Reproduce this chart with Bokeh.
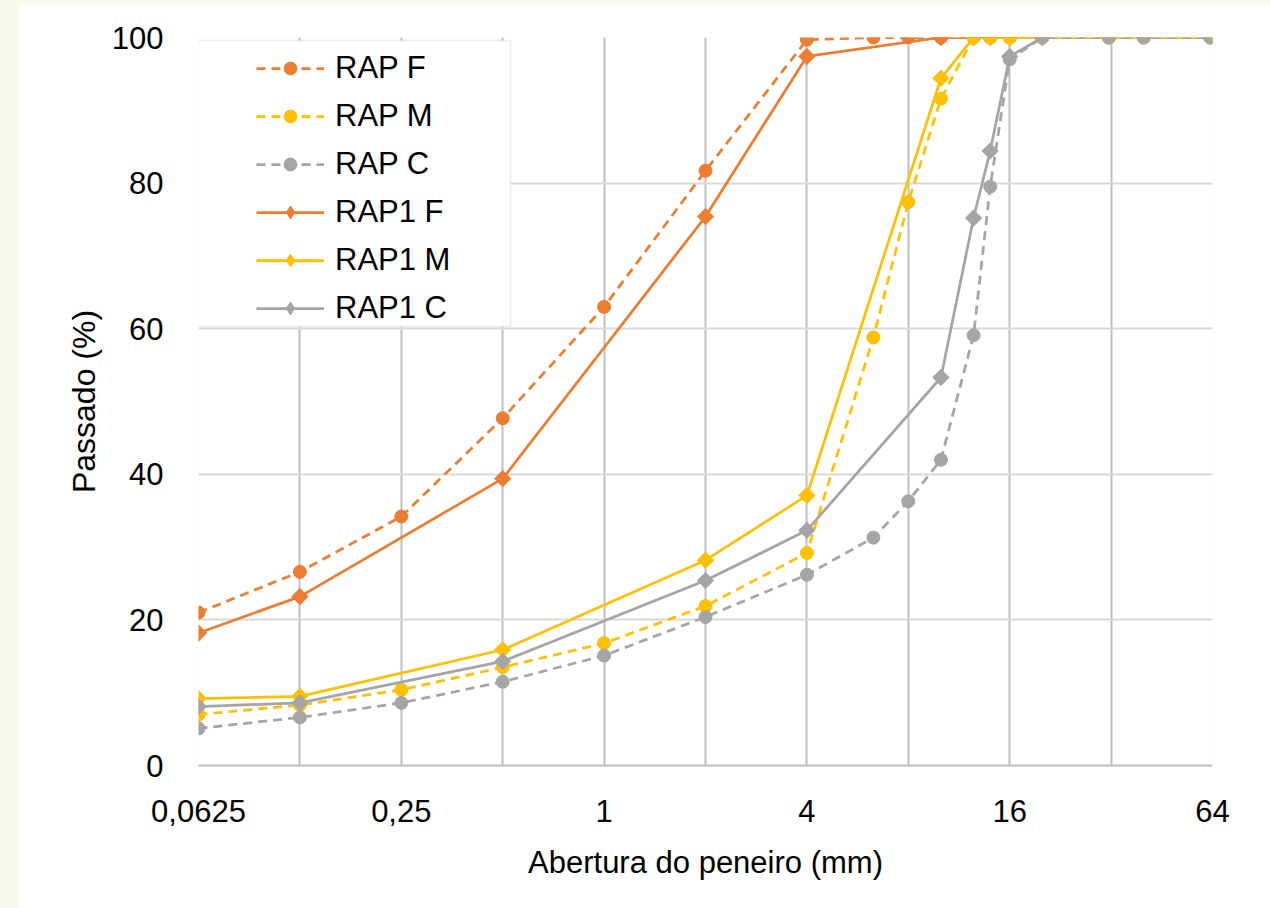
import numpy as np
from bokeh.plotting import figure
from bokeh.layouts import column
from bokeh.models import (Range1d, FixedTicker, CustomJSTickFormatter, Legend,
                          LegendItem, BoxAnnotation)
from bokeh.embed import file_html
from bokeh.resources import INLINE

# ---- data ----
sieves_rap = [0.0625, 0.125, 0.25, 0.5, 1, 2, 4, 6.3, 8, 10, 12.5, 14, 16, 20, 31.5, 40, 63]
rap_f = [21.0, 26.6, 34.2, 47.7, 63.0, 81.7, 99.7, 100, 100, 100, 100, 100, 100, 100, 100, 100, 100]
rap_m = [7.0, 8.3, 10.4, 13.5, 16.8, 21.9, 29.2, 58.8, 77.4, 91.6, 100, 100, 100, 100, 100, 100, 100]
rap_c = [5.1, 6.6, 8.6, 11.5, 15.1, 20.4, 26.2, 31.3, 36.3, 42.0, 59.1, 79.5, 97.0, 100, 100, 100, 100]

sieves_rap1 = [0.0625, 0.125, 0.5, 2, 4, 10, 12.5, 14, 16, 20]
rap1_f = [18.2, 23.2, 39.4, 75.4, 97.4, 100, 100, 100, 100, 100]
rap1_m = [9.2, 9.5, 15.9, 28.2, 37.1, 94.4, 100, 100, 100, 100]
rap1_c = [8.1, 8.6, 14.3, 25.4, 32.3, 53.3, 75.2, 84.4, 97.4, 100]

series_names = ["RAP F", "RAP M", "RAP C", "RAP1 F", "RAP1 M", "RAP1 C"]
x_major_ticks = [0.0625, 0.25, 1, 4, 16, 64]
x_minor_ticks = [0.125, 0.5, 2, 8, 32]
y_ticks = [0, 20, 40, 60, 80, 100]

ORANGE = "#ED7D31"
YELLOW = "#FFC000"
GRAY = "#A5A5A5"
CREAM = "#F8F8EE"

FONT = "Liberation Sans"

p = figure(width=1252, height=904, x_axis_type="log",
           x_range=Range1d(0.0625, 64), y_range=Range1d(0, 100),
           output_backend="svg", toolbar_location=None,
           min_border_left=180, min_border_right=58,
           min_border_top=33, min_border_bottom=143)
p.margin = (4, 0, 0, 18)
p.outline_line_color = None
p.background_fill_color = "white"
p.border_fill_color = "white"

# axes
p.xaxis.ticker = FixedTicker(ticks=x_major_ticks, minor_ticks=x_minor_ticks)
p.xaxis.formatter = CustomJSTickFormatter(code="return tick.toString().replace('.', ',');")
p.yaxis.ticker = FixedTicker(ticks=y_ticks)

for ax in (p.xaxis[0], p.yaxis[0]):
    ax.major_tick_line_color = None
    ax.minor_tick_line_color = None
    ax.major_tick_out = 0
    ax.major_tick_in = 0
    ax.major_label_text_font = FONT
    ax.major_label_text_font_size = "31px"
    ax.major_label_text_color = "#000000"
    ax.axis_label_text_font = FONT
    ax.axis_label_text_font_style = "normal"
    ax.axis_label_text_color = "#000000"

p.xaxis.axis_line_color = "#BFBFBF"
p.xaxis.axis_line_width = 2
p.yaxis.axis_line_color = None
p.xaxis.major_label_standoff = 30
p.yaxis.major_label_standoff = 35
p.xaxis.axis_label = "Abertura do peneiro (mm)"
p.yaxis.axis_label = "Passado (%)"
p.xaxis.axis_label_text_font_size = "31px"
p.yaxis.axis_label_text_font_size = "32px"
p.xaxis.axis_label_standoff = 20
p.yaxis.axis_label_standoff = 7

# grids
p.xgrid.grid_line_color = "#BFBFBF"
p.xgrid.grid_line_width = 2
p.xgrid.minor_grid_line_color = "#BFBFBF"
p.xgrid.minor_grid_line_width = 2
p.ygrid.grid_line_color = "#D9D9D9"
p.ygrid.grid_line_width = 2

# series
specs = [
    (sieves_rap, rap_f, ORANGE, "dashed"),
    (sieves_rap, rap_m, YELLOW, "dashed"),
    (sieves_rap, rap_c, GRAY, "dashed"),
    (sieves_rap1, rap1_f, ORANGE, "solid"),
    (sieves_rap1, rap1_m, YELLOW, "solid"),
    (sieves_rap1, rap1_c, GRAY, "solid"),
]
items = []
for name, (xs, ys, col, style) in zip(series_names, specs):
    dash = "9 6" if style == "dashed" else "solid"
    lr = p.line(xs, ys, line_color=col, line_width=2.75, line_dash=dash)
    if style == "dashed":
        sr = p.scatter(xs, ys, marker="circle", size=13, fill_color=col, line_color=col)
        items.append(LegendItem(label=name, renderers=[lr, sr]))
    else:
        sr = p.scatter(xs, ys, marker="square", angle=np.pi / 4, size=11.5,
                       fill_color=col, line_color=col)
        # legend swatch (legend markers are never rotated, so use a diamond)
        lg = p.scatter(xs, ys, marker="diamond", size=14, fill_color=col,
                       line_color=col, visible=False)
        items.append(LegendItem(label=name, renderers=[lr, lg]))

# legend frame (canvas pixels of this figure)
p.add_layout(BoxAnnotation(left=179, right=492, top=36, bottom=322,
                           left_units="canvas", right_units="canvas",
                           top_units="canvas", bottom_units="canvas",
                           fill_color="white", fill_alpha=1,
                           line_color="#BFBFBF", line_width=1.5))

legend = Legend(items=items, location=(58, 437), padding=4, margin=0,
                spacing=8, glyph_width=68, glyph_height=32, label_height=40,
                label_standoff=11, border_line_color=None,
                background_fill_alpha=0,
                label_text_font=FONT, label_text_font_size="31px",
                label_text_color="#000000")
p.add_layout(legend, "center")

page = column(p, styles={"background-color": CREAM})

open("out.html", "w").write(file_html(page, INLINE))
